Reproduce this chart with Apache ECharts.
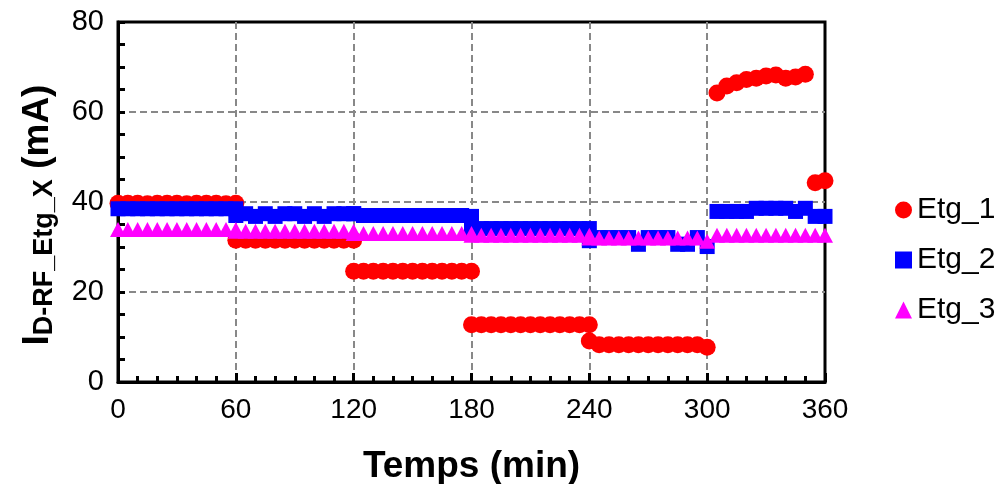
<!DOCTYPE html>
<html>
<head>
<meta charset="utf-8">
<script src="https://cdn.jsdelivr.net/npm/echarts@6/dist/echarts.min.js"></script>
<style>
  html, body { margin: 0; padding: 0; background: #fff; }
  #chart { width: 1000px; height: 484px; }
</style>
</head>
<body>
<div id="chart"></div>
<script>
// time (min), one point every 5 min, each hour block repeats its boundary
const times = [
  0, 5, 10, 15, 20, 25, 30, 35, 40, 45, 50, 55, 60,
  60, 65, 70, 75, 80, 85, 90, 95, 100, 105, 110, 115, 120,
  120, 125, 130, 135, 140, 145, 150, 155, 160, 165, 170, 175, 180,
  180, 185, 190, 195, 200, 205, 210, 215, 220, 225, 230, 235, 240,
  240, 245, 250, 255, 260, 265, 270, 275, 280, 285, 290, 295, 300,
  305, 310, 315, 320, 325, 330, 335, 340, 345, 350, 355, 360
]
const etg1 = [
  39.7, 39.7, 39.7, 39.6, 39.7, 39.7, 39.7, 39.6, 39.7, 39.7, 39.7, 39.6, 39.7,
  31.5, 31.5, 31.5, 31.5, 31.5, 31.5, 31.5, 31.5, 31.5, 31.5, 31.5, 31.5, 31.5,
  24.6, 24.6, 24.6, 24.6, 24.6, 24.6, 24.6, 24.6, 24.6, 24.6, 24.6, 24.6, 24.6,
  12.7, 12.7, 12.7, 12.7, 12.7, 12.7, 12.7, 12.7, 12.7, 12.7, 12.7, 12.7, 12.7,
  9.1, 8.3, 8.3, 8.3, 8.3, 8.3, 8.3, 8.3, 8.3, 8.3, 8.3, 8.3, 7.7,
  64.2, 65.8, 66.5, 67.2, 67.5, 68.0, 68.2, 67.5, 67.8, 68.4, 44.3, 44.7
]
const etg2 = [
  38.5, 38.5, 38.5, 38.5, 38.5, 38.5, 38.5, 38.5, 38.5, 38.5, 38.5, 38.5, 38.5,
  37.0, 37.4, 36.8, 37.4, 36.8, 37.4, 37.4, 36.8, 37.4, 36.8, 37.4, 37.4, 37.4,
  37.4, 37.0, 37.0, 37.0, 37.0, 37.0, 37.0, 37.0, 37.0, 37.0, 37.0, 37.0, 36.8,
  34.1, 34.1, 34.1, 34.1, 34.1, 34.1, 34.1, 34.1, 34.1, 34.1, 34.1, 34.1, 34.1,
  31.4, 32.1, 32.1, 32.1, 32.1, 30.6, 32.1, 32.1, 32.1, 30.6, 30.6, 32.1, 30.1,
  37.9, 37.9, 37.9, 37.9, 38.6, 38.6, 38.6, 38.6, 37.9, 38.6, 36.8, 36.8
]
const etg3 = [
  33.9, 33.9, 33.9, 33.9, 33.9, 33.9, 33.9, 33.9, 33.9, 33.9, 33.9, 33.9, 33.9,
  33.5, 33.5, 33.5, 33.5, 33.5, 33.5, 33.5, 33.5, 33.5, 33.5, 33.5, 33.5, 33.5,
  33.0, 33.0, 33.0, 33.0, 33.0, 33.0, 33.0, 33.0, 33.0, 33.0, 33.0, 33.0, 33.0,
  32.6, 32.6, 32.6, 32.6, 32.6, 32.6, 32.6, 32.6, 32.6, 32.6, 32.6, 32.6, 32.6,
  32.0, 32.0, 32.0, 32.0, 32.0, 32.0, 32.0, 32.0, 32.0, 32.0, 32.0, 32.0, 31.3,
  32.6, 32.6, 32.6, 32.6, 32.6, 32.6, 32.6, 32.6, 32.6, 32.6, 32.6, 32.6
]
const seriesNames = ['Etg_1', 'Etg_2', 'Etg_3']

const font = 'Liberation Sans, Arial, sans-serif'
const pairs = vals => times.map((t, i) => [t, vals[i]])
const gridDash = { show: true, showMinLine: false, showMaxLine: false, lineStyle: { color: '#888', width: 2, type: [7, 4] } }

const chart = echarts.init(document.getElementById('chart'), null, { renderer: 'canvas' })
chart.setOption({
  animation: false,
  backgroundColor: '#fff',
  grid: {
    left: 118, right: 175, top: 22, bottom: 102,
    outerBoundsMode: 'none',
    show: true, borderColor: '#000', borderWidth: 3
  },
  legend: {
    orient: 'vertical',
    left: 890,
    top: 190,
    itemWidth: 17,
    itemHeight: 17,
    itemGap: 20,
    textStyle: { fontFamily: font, fontSize: 30, color: '#000', lineHeight: 30 },
    data: [
      { name: seriesNames[0], icon: 'circle' },
      { name: seriesNames[1], icon: 'rect' },
      { name: seriesNames[2], icon: 'triangle' }
    ]
  },
  xAxis: {
    type: 'value',
    min: 0, max: 360, interval: 60,
    name: 'Temps (min)',
    nameLocation: 'middle',
    nameGap: 66,
    nameTextStyle: { fontFamily: font, fontSize: 37, fontWeight: 'bold', color: '#000' },
    axisLine: { onZero: false, lineStyle: { color: '#000', width: 3 } },
    axisTick: { inside: true, length: 9, lineStyle: { color: '#000', width: 3 } },
    minorTick: { show: true, splitNumber: 6, length: 6, lineStyle: { color: '#000', width: 3 } },
    axisLabel: { fontFamily: font, fontSize: 28, color: '#000', margin: 14 },
    splitLine: gridDash
  },
  yAxis: {
    type: 'value',
    min: 0, max: 80, interval: 20,
    name: '{i|I}{s|D-RF_Etg_X}{i| (mA)}',
    nameLocation: 'middle',
    nameRotate: 90,
    nameGap: 60,
    nameTextStyle: {
      fontFamily: font, fontWeight: 'bold', color: '#000',
      padding: [0, 26, 0, 0],
      rich: {
        i: { fontFamily: font, fontSize: 37, fontWeight: 'bold', color: '#000' },
        s: { fontFamily: font, fontSize: 27, fontWeight: 'bold', color: '#000', verticalAlign: 'bottom', padding: [14, 0, 0, 0] }
      }
    },
    axisLine: { onZero: false, lineStyle: { color: '#000', width: 3 } },
    axisTick: { inside: true, length: 7, lineStyle: { color: '#000', width: 3 } },
    minorTick: { show: true, splitNumber: 4, length: 7, lineStyle: { color: '#000', width: 3 } },
    axisLabel: { fontFamily: font, fontSize: 29, color: '#000', margin: 14 },
    splitLine: gridDash
  },
  series: [
    {
      name: seriesNames[0], type: 'scatter', symbol: 'circle', symbolSize: 17,
      itemStyle: { color: '#ff0000', opacity: 1 }, data: pairs(etg1)
    },
    {
      name: seriesNames[1], type: 'scatter', symbol: 'rect', symbolSize: 15,
      itemStyle: { color: '#0000ff', opacity: 1 }, data: pairs(etg2)
    },
    {
      name: seriesNames[2], type: 'scatter', symbol: 'triangle', symbolSize: [16, 15],
      itemStyle: { color: '#ff00ff', opacity: 1 }, data: pairs(etg3)
    }
  ]
})
</script>
</body>
</html>
